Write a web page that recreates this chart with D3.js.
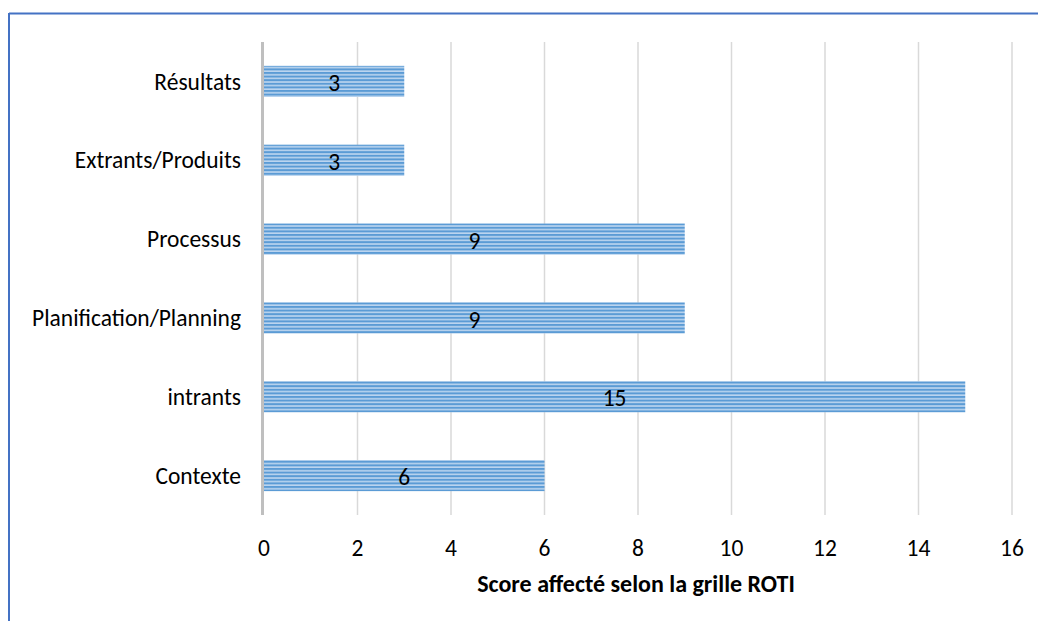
<!DOCTYPE html>
<html><head><meta charset="utf-8">
<script src="https://cdn.jsdelivr.net/npm/d3@7"></script>
<style>body{margin:0;background:#fff;} svg{display:block;}</style>
</head><body>
<svg id="c" width="1038" height="621"></svg>
<script>
const categories = ["Résultats","Extrants/Produits","Processus","Planification/Planning","intrants","Contexte"];
const values = [3,3,9,9,15,6];
const xTicks = [0,2,4,6,8,10,12,14,16];
const xTitle = "Score affecté selon la grille ROTI";

const svg = d3.select("#c");
const font = "Carlito, Calibri, 'Open Sans', 'Liberation Sans', sans-serif";
const defs = svg.append("defs");
const pat = defs.append("pattern").attr("id","stripes").attr("patternUnits","userSpaceOnUse")
  .attr("width",8).attr("height",3.6);
pat.append("rect").attr("width",8).attr("height",3.6).attr("fill","#bcd5ef");
pat.append("rect").attr("width",8).attr("height",2).attr("fill","#5b9bd5");

// border
svg.append("line").attr("x1",9).attr("x2",1038).attr("y1",13.5).attr("y2",13.5).attr("stroke","#4472c4").attr("stroke-width",2);
svg.append("line").attr("x1",9).attr("x2",9).attr("y1",13).attr("y2",621).attr("stroke","#4472c4").attr("stroke-width",2);

const x = d3.scaleLinear().domain([0,16]).range([264,1012]);
const y = d3.scaleBand().domain(categories).range([42,515]).paddingInner(0.605).paddingOuter(0.3025);

// gridlines
svg.append("g").selectAll("line").data(xTicks.filter(d=>d>0)).join("line")
  .attr("x1",d=>x(d)).attr("x2",d=>x(d)).attr("y1",42).attr("y2",515)
  .attr("stroke","#d9d9d9").attr("stroke-width",1.5);

// bars
svg.append("g").selectAll("rect").data(categories).join("rect")
  .attr("x",x(0)).attr("y",d=>y(d)).attr("width",(d,i)=>x(values[i])-x(0)).attr("height",y.bandwidth())
  .attr("fill","url(#stripes)");

// axis line
svg.append("line").attr("x1",x(0)-1.5).attr("x2",x(0)-1.5).attr("y1",42).attr("y2",515).attr("stroke","#bfbfbf").attr("stroke-width",3);

// value labels
svg.append("g").selectAll("text").data(categories).join("text")
  .attr("x",(d,i)=>x(values[i]/2)).attr("y",d=>y(d)+y.bandwidth()/2+1.5)
  .attr("dy","0.35em").attr("text-anchor","middle")
  .attr("font-family",font).attr("font-size",23.5).attr("fill","#000")
  .text((d,i)=>values[i]);

// category labels
svg.append("g").selectAll("text").data(categories).join("text")
  .attr("x",241).attr("y",d=>y(d)+y.bandwidth()/2).attr("dy","0.35em").attr("text-anchor","end")
  .attr("font-family",font).attr("font-size",23.5).attr("fill","#000").text(d=>d);

// x tick labels
svg.append("g").selectAll("text").data(xTicks).join("text")
  .attr("x",d=>x(d)).attr("y",548).attr("dy","0.35em").attr("text-anchor","middle")
  .attr("font-family",font).attr("font-size",23.5).attr("fill","#000").text(d=>d);

svg.append("text").attr("x",636).attr("y",584).attr("dy","0.35em").attr("text-anchor","middle")
  .attr("font-family",font).attr("font-size",24).attr("font-weight","bold").attr("fill","#000").text(xTitle);
</script>
</body></html>
